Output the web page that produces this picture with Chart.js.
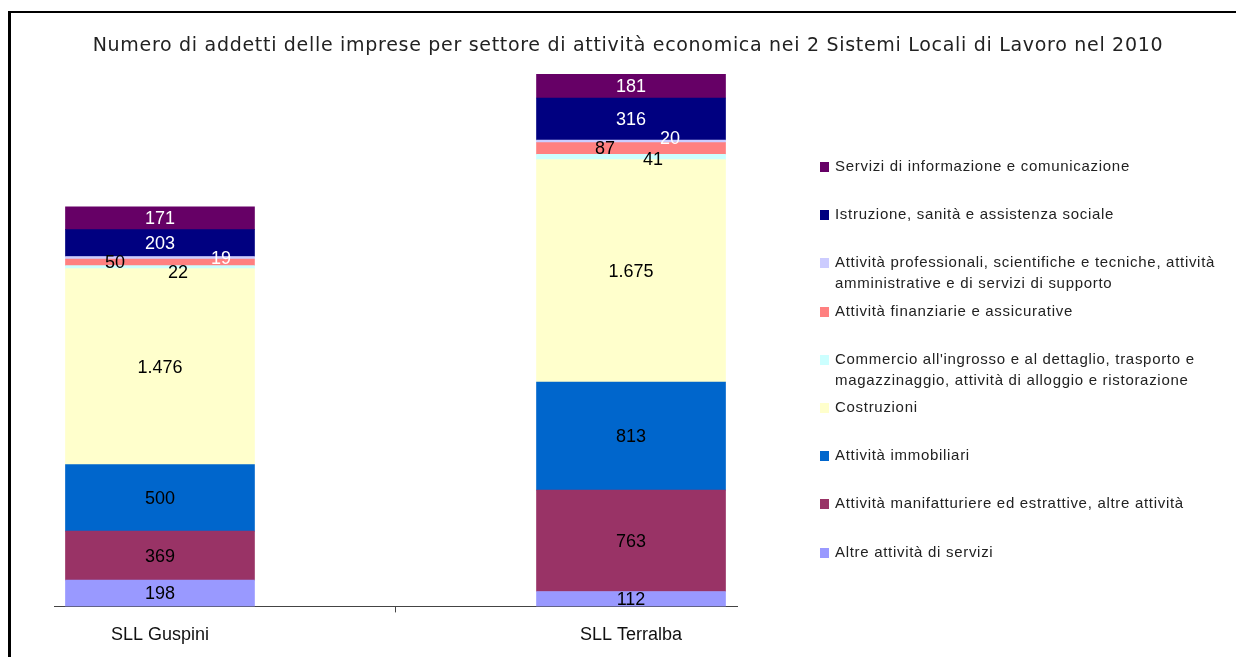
<!DOCTYPE html>
<html>
<head>
<meta charset="utf-8">
<script src="https://cdn.jsdelivr.net/npm/chart.js@4/dist/chart.umd.min.js"></script>
<style>
  html, body { margin: 0; padding: 0; background: #fff; }
  #wrap { position: relative; width: 1236px; height: 657px; overflow: hidden; }
  #frame { position: absolute; left: 8px; top: 11px; right: 0; bottom: 0;
           border-left: 3px solid #000; border-top: 2px solid #000; }
  #title { position: absolute; left: 0; width: 1256px; top: 33px; text-align: center;
           font-family: "DejaVu Sans", sans-serif; font-size: 19px; letter-spacing: 0.7px;
           color: #222; white-space: nowrap; }
  #chart { position: absolute; left: 0; top: 0; }
  .leg { position: absolute; left: 835px; font-family: "Liberation Sans", Arial, sans-serif;
         font-size: 15px; line-height: 21px; letter-spacing: 0.7px; color: #222; white-space: nowrap; }
  .leg i { position: absolute; left: -15px; top: 7px; width: 9px; height: 10px; }
</style>
</head>
<body>
<div id="wrap">
  <div id="frame"></div>
  <canvas id="chart" width="1236" height="659"></canvas>
  <div id="title">Numero di addetti delle imprese per settore di attività economica nei 2 Sistemi Locali di Lavoro nel 2010</div>
  <div id="legend"></div>
</div>
<script>
const categories = ['SLL Guspini', 'SLL Terralba'];

// series, bottom of the stack first
const altreServizi   = [198, 112];
const manifatturiere = [369, 763];
const immobiliari    = [500, 813];
const costruzioni    = [1476, 1675];
const commercio      = [22, 41];
const finanziarie    = [50, 87];
const professionali  = [19, 20];
const istruzione     = [203, 316];
const informazione   = [171, 181];

const seriesNames = [
    'Altre attività di servizi',
    'Attività manifatturiere ed estrattive, altre attività',
    'Attività immobiliari',
    'Costruzioni',
    'Commercio all\'ingrosso e al dettaglio, trasporto e<br>magazzinaggio, attività di alloggio e ristorazione',
    'Attività finanziarie e assicurative',
    'Attività professionali, scientifiche e tecniche, attività<br>amministrative e di servizi di supporto',
    'Istruzione, sanità e assistenza sociale',
    'Servizi di informazione e comunicazione'
];
const seriesValues = [altreServizi, manifatturiere, immobiliari, costruzioni, commercio,
                      finanziarie, professionali, istruzione, informazione];

const colors = ['#9999FF', '#993366', '#0066CC', '#FFFFCC', '#CCFFFF',
                '#FF8080', '#CCCCFF', '#000080', '#660066'];
const labelColors = ['#000', '#000', '#000', '#000', '#000', '#000', '#fff', '#fff', '#fff'];

// manual nudges for the labels of the thin bands (dx, dy in px)
const labelNudge = {
    4: [[18, 5], [22, 2]],
    5: [[-45, 0], [-26, 0]],
    6: [[61, 0], [39, -3]]
};

function fmt(v) {
    return String(v).replace(/\B(?=(\d{3})+(?!\d))/g, '.');
}

const datasets = seriesValues.map((vals, s) => ({
    label: seriesNames[s].replace('<br>', ' '),
    data: vals.map((v, i) => ({ x: i, y: v })),
    backgroundColor: colors[s],
    borderWidth: 0,
    barThickness: 189
}));

const barLabels = {
    id: 'barLabels',
    afterDatasetsDraw(chart) {
        const ctx = chart.ctx;
        ctx.save();
        ctx.font = '18px "Liberation Sans", Arial, sans-serif';
        ctx.textAlign = 'center';
        ctx.textBaseline = 'middle';
        chart.data.datasets.forEach((ds, s) => {
            const meta = chart.getDatasetMeta(s);
            meta.data.forEach((bar, i) => {
                const nudge = (labelNudge[s] || [])[i] || [0, 0];
                ctx.fillStyle = labelColors[s];
                ctx.fillText(fmt(ds.data[i].y), bar.x + nudge[0], (bar.y + bar.base) / 2 + nudge[1] + 1);
            });
        });
        ctx.restore();
    }
};

new Chart(document.getElementById('chart'), {
    type: 'bar',
    data: { datasets },
    options: {
        responsive: false,
        animation: false,
        layout: { padding: { left: 54, right: 499, top: 74, bottom: 1 } },
        plugins: { legend: { display: false }, tooltip: { enabled: false } },
        scales: {
            x: {
                type: 'linear',
                stacked: true,
                min: -0.225,
                max: 1.225,
                offset: false,
                afterBuildTicks: (scale) => {
                    scale.ticks = [{ value: 0 }, { value: 0.5 }, { value: 1 }];
                },
                ticks: {
                    autoSkip: false,
                    maxRotation: 0,
                    padding: 12,
                    color: '#111',
                    font: { family: '"Liberation Sans", Arial, sans-serif', size: 18 },
                    callback: (v) => (v === 0 || v === 1) ? categories[v] : ''
                },
                grid: {
                    offset: false,
                    drawOnChartArea: false,
                    tickLength: 6,
                    tickColor: (c) => (c.tick && c.tick.value === 0.5) ? '#444' : 'rgba(0,0,0,0)'
                },
                border: { color: '#444', width: 1 }
            },
            y: {
                stacked: true,
                display: false,
                min: 0,
                max: 4008
            }
        }
    },
    plugins: [barLabels]
});

// legend, top entry first
const legend = document.getElementById('legend');
for (let k = 0; k < seriesNames.length; k++) {
    const s = seriesNames.length - 1 - k;
    const item = document.createElement('div');
    item.className = 'leg';
    item.style.top = (155 + k * 48.2) + 'px';
    item.innerHTML = '<i style="background:' + colors[s] + '"></i>' + seriesNames[s];
    legend.appendChild(item);
}
</script>
</body>
</html>
